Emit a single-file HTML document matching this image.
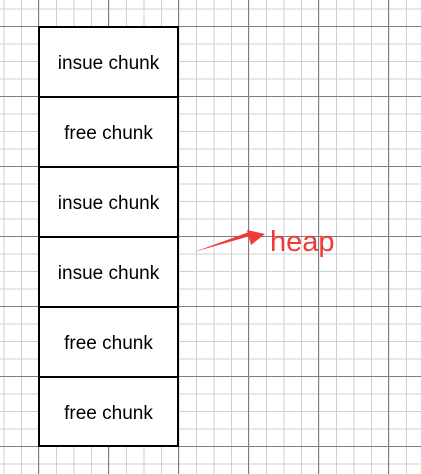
<!DOCTYPE html>
<html><head><style>html,body{margin:0;padding:0;background:#fff}svg{display:block}</style></head>
<body>
<svg width="421" height="474" xmlns="http://www.w3.org/2000/svg">
<defs>
<pattern id="minor" x="3.5" y="8.5" width="17.5" height="17.5" patternUnits="userSpaceOnUse">
<path d="M0.5 0V17.5M0 0.5H17.5" stroke="#cfcfcf" stroke-width="1" fill="none"/>
</pattern>
<pattern id="major" x="38" y="26" width="70" height="70" patternUnits="userSpaceOnUse">
<path d="M0.5 0V70M0 0.5H70" stroke="#7e7e7e" stroke-width="1" fill="none"/>
</pattern>
</defs>
<rect width="421" height="474" fill="url(#minor)"/>
<rect width="421" height="474" fill="url(#major)"/>
<g fill="#fff" stroke="#000" stroke-width="2">
<rect x="39" y="27" width="139" height="70"/>
<rect x="39" y="97" width="139" height="70"/>
<rect x="39" y="167" width="139" height="70"/>
<rect x="39" y="237" width="139" height="70"/>
<rect x="39" y="307" width="139" height="70"/>
<rect x="39" y="377" width="139" height="69"/>
</g>
<g font-family="Liberation Sans, sans-serif" font-size="19" text-anchor="middle" fill="#000">
<text x="108.5" y="69">insue chunk</text>
<text x="108.5" y="139">free chunk</text>
<text x="108.5" y="209">insue chunk</text>
<text x="108.5" y="279">insue chunk</text>
<text x="108.5" y="349">free chunk</text>
<text x="108.5" y="419">free chunk</text>
</g>
<polygon points="194,252 250,236 249,232" fill="#f03a3a"/>
<polygon points="265,234 247,230 251,245" fill="#f03a3a"/>
<text x="270" y="251" font-family="Liberation Sans, sans-serif" font-size="29" fill="#f03a3a">heap</text>
</svg>
</body></html>
